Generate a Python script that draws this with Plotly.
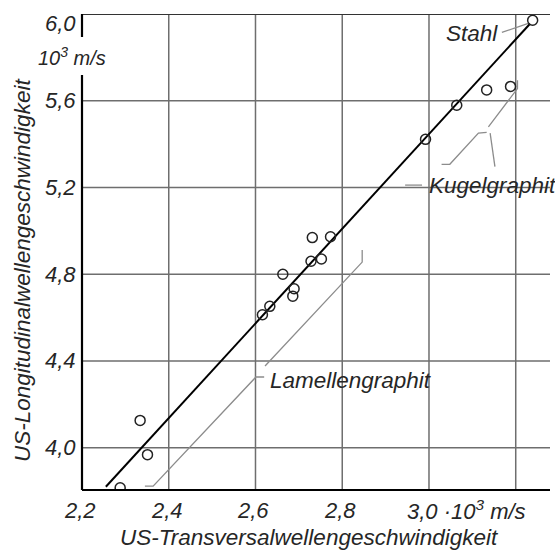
import plotly.graph_objects as go

# ---- data ----
vt = [3.239, 3.133, 3.188, 3.064, 2.992, 2.731, 2.773, 2.728, 2.752, 2.663,
      2.689, 2.686, 2.633, 2.616, 2.334, 2.351, 2.288]
vl = [5.971, 5.650, 5.666, 5.579, 5.422, 4.969, 4.973, 4.860, 4.870, 4.800,
      4.733, 4.699, 4.652, 4.613, 4.126, 3.968, 3.815]

fit_x = [2.255, 3.233]
fit_y = [3.820, 5.955]

x_ticks = [2.2, 2.4, 2.6, 2.8]
x_tick_text = ["2,2", "2,4", "2,6", "2,8"]
x_last_tick = 3.0
x_last_text = "3,0 ·10<sup>3</sup> m/s"
x_grid = [2.4, 2.6, 2.8, 3.0, 3.2]

y_ticks = [4.0, 4.4, 4.8, 5.2, 5.6, 6.0]
y_tick_text = ["4,0", "4,4", "4,8", "5,2", "5,6", "6,0"]
y_grid = [4.0, 4.4, 4.8, 5.2, 5.6]

# bracket / leader lines (data units)
lam_lower_x = [2.345, 2.364, 2.601, 2.620]
lam_lower_y = [3.823, 3.823, 4.326, 4.326]
lam_upper_x = [2.622, 2.846, 2.846]
lam_upper_y = [4.377, 4.856, 4.912]

kug_lower_x = [3.029, 3.048, 3.114, 3.133]
kug_lower_y = [5.307, 5.307, 5.451, 5.454]
kug_lead_x = [3.141, 3.152]
kug_lead_y = [5.451, 5.296]
kug_upper_x = [3.137, 3.198, 3.204, 3.204]
kug_upper_y = [5.480, 5.638, 5.656, 5.694]
kug_dash_x = [2.945, 2.984]
kug_dash_y = [5.211, 5.211]

stahl_lead_x = [3.168, 3.229]
stahl_lead_y = [5.915, 5.957]

XR = [2.2, 3.279]
YR = [3.805, 6.0]

TXT = "#262626"
GRID = "#6e6e6e"
LEAD = "#8c8c8c"
FONT = "Liberation Sans"

fig = go.Figure()

def leader(xs, ys):
    fig.add_trace(go.Scatter(x=xs, y=ys, mode="lines",
                             line=dict(color=LEAD, width=1.3),
                             hoverinfo="skip", showlegend=False, cliponaxis=False))

for xs, ys in [(lam_lower_x, lam_lower_y), (lam_upper_x, lam_upper_y),
               (kug_lower_x, kug_lower_y), (kug_lead_x, kug_lead_y),
               (kug_upper_x, kug_upper_y), (kug_dash_x, kug_dash_y),
               (stahl_lead_x, stahl_lead_y)]:
    leader(xs, ys)

fig.add_trace(go.Scatter(x=fit_x, y=fit_y, mode="lines",
                         line=dict(color="black", width=2),
                         showlegend=False, hoverinfo="skip"))
fig.add_trace(go.Scatter(x=vt, y=vl, mode="markers",
                         marker=dict(symbol="circle-open", size=10,
                                     color="#222222", line=dict(width=1.5)),
                         showlegend=False, cliponaxis=True))

shapes = []
for gx in x_grid:
    shapes.append(dict(type="line", xref="x", yref="paper", x0=gx, x1=gx, y0=0, y1=1,
                       line=dict(color=GRID, width=1.5), layer="below"))
for gy in y_grid:
    shapes.append(dict(type="line", xref="paper", yref="y", x0=0, x1=1, y0=gy, y1=gy,
                       line=dict(color=GRID, width=1.5), layer="below"))
# frame: bottom axis, top border, left axis with gap for unit label
shapes.append(dict(type="line", xref="paper", yref="paper", x0=0, x1=1, y0=0, y1=0,
                   line=dict(color="black", width=2.2)))
shapes.append(dict(type="line", xref="paper", yref="y", x0=0, x1=1, y0=6.0, y1=6.0,
                   line=dict(color="#333333", width=2)))
shapes.append(dict(type="line", xref="paper", yref="y", x0=0, x1=0, y0=6.0, y1=5.894,
                   line=dict(color="black", width=2.2)))
shapes.append(dict(type="line", xref="paper", yref="y", x0=0, x1=0, y0=5.719, y1=YR[0],
                   line=dict(color="black", width=2.2)))

ann = []
f_tick = dict(family=FONT, size=22, color=TXT, style="italic")
for v, t in zip(x_ticks, x_tick_text):
    ann.append(dict(x=v, y=0, xref="x", yref="paper", text=t, showarrow=False,
                    xanchor="center", yanchor="middle", yshift=-20, xshift=-2, font=f_tick))
ann.append(dict(x=x_last_tick, y=0, xref="x", yref="paper", text=x_last_text, showarrow=False,
                xanchor="left", yanchor="middle", yshift=-20, xshift=-24, font=f_tick))
for v, t in zip(y_ticks, y_tick_text):
    ann.append(dict(x=0, y=v, xref="paper", yref="y", text=t, showarrow=False,
                    xanchor="right", yanchor="middle", xshift=-4,
                    yshift=(-9 if v == 6.0 else 0), font=f_tick))
ann.append(dict(x=0, y=5.802, xref="paper", yref="y", text="10<sup>3</sup> m/s", showarrow=False,
                xanchor="center", yanchor="middle", xshift=-10,
                font=dict(family=FONT, size=20, color=TXT, style="italic")))
f_lab = dict(family=FONT, size=22.5, color=TXT, style="italic")
ann.append(dict(x=0.487, y=0, xref="paper", yref="paper", text="US-Transversalwellengeschwindigkeit",
                showarrow=False, xanchor="center", yanchor="middle", yshift=-47, font=f_lab))
ann.append(dict(x=0, y=0.462, xref="paper", yref="paper", text="US-Longitudinalwellengeschwindigkeit",
                showarrow=False, xanchor="center", yanchor="middle", xshift=-60, textangle=-90,
                font=f_lab))
ann.append(dict(x=2.629, y=4.312, text="Lamellengraphit", showarrow=False,
                xanchor="left", yanchor="middle", font=f_lab))
ann.append(dict(x=2.995, y=5.211, text="Kugelgraphit", showarrow=False,
                xanchor="left", yanchor="middle", font=f_lab))
ann.append(dict(x=3.163, y=5.912, text="Stahl", showarrow=False,
                xanchor="right", yanchor="middle", font=f_lab))

fig.update_layout(
    width=555, height=551,
    margin=dict(l=82, r=5, t=14, b=61),
    paper_bgcolor="white", plot_bgcolor="white",
    xaxis=dict(range=XR, showgrid=False, zeroline=False, showline=False,
               showticklabels=False, ticks=""),
    yaxis=dict(range=YR, showgrid=False, zeroline=False, showline=False,
               showticklabels=False, ticks=""),
    shapes=shapes, annotations=ann, showlegend=False,
)

fig.write_html("out.html")
